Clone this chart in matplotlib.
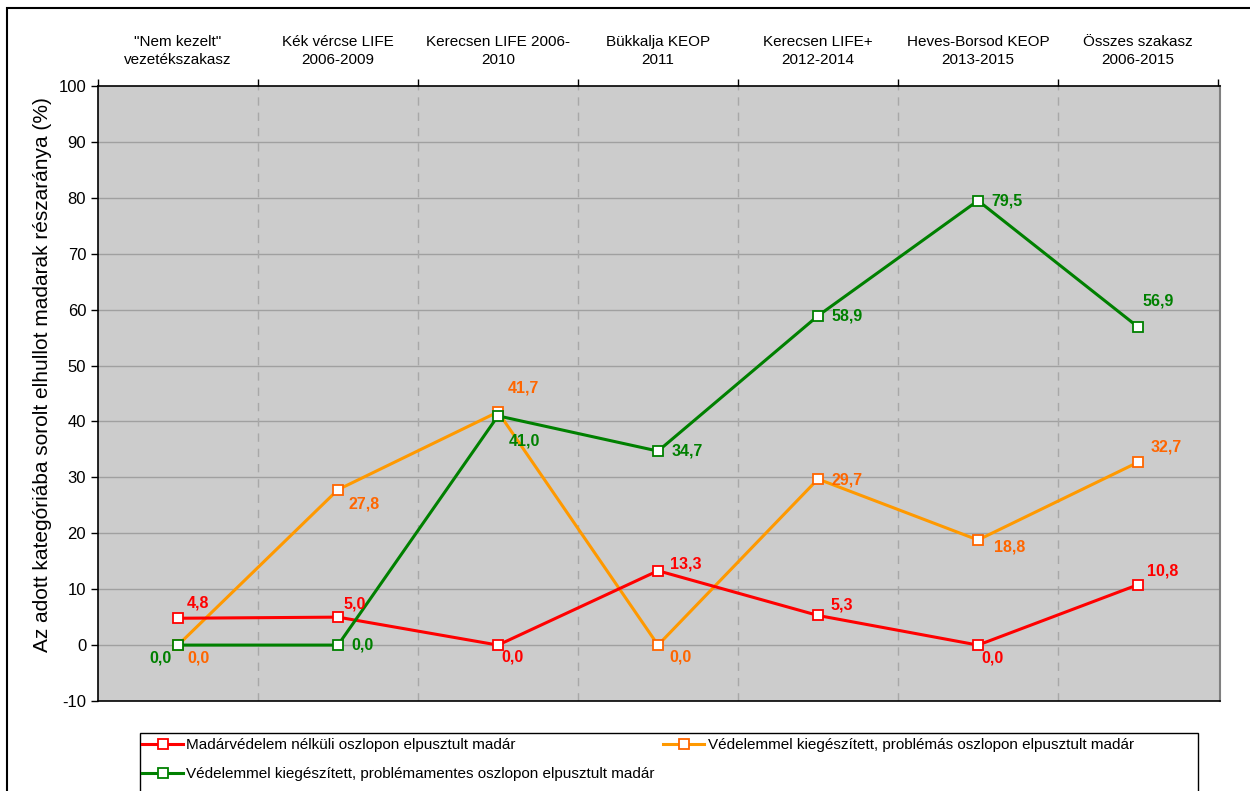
import numpy as np
import matplotlib
matplotlib.use('Agg')
import matplotlib.pyplot as plt
from matplotlib.patches import Rectangle

plt.rcParams['font.family'] = ['Liberation Sans', 'DejaVu Sans']
plt.rcParams['axes.unicode_minus'] = False

# Szakaszok és adatok
szakaszok = ['"Nem kezelt"\nvezetékszakasz', 'Kék vércse LIFE\n2006-2009',
             'Kerecsen LIFE 2006-\n2010', 'Bükkalja KEOP\n2011',
             'Kerecsen LIFE+\n2012-2014', 'Heves-Borsod KEOP\n2013-2015',
             'Összes szakasz\n2006-2015']
vedelem_nelkul = [4.8, 5.0, 0.0, 13.3, 5.3, 0.0, 10.8]
problemas = [0.0, 27.8, 41.7, 0.0, 29.7, 18.8, 32.7]
problemamentes = [0.0, 0.0, 41.0, 34.7, 58.9, 79.5, 56.9]

# címkék eltolása (pixel)
off_piros = [(20, 15), (17, 13), (14, -12), (28, 7), (24, 10), (14, -13), (25, 14)]
off_narancs = [(20, -13), (26, -14), (25, 24), (22, -12), (29, -1), (32, -7), (28, 15)]
off_zold = [(-18, -13), (24, 0), (26, -25), (29, 0), (29, 0), (29, 0), (20, 26)]

fig = plt.figure(figsize=(12.5, 7.91), dpi=100)
ax = fig.add_axes([98 / 1250, 1 - 701 / 791, 1122 / 1250, 615 / 791])
ax.set_facecolor('#CCCCCC')

x = np.arange(len(szakaszok))

l1, = ax.plot(x, vedelem_nelkul, color='#FF0000', lw=2.2, marker='s', ms=6.5,
              mfc='white', mec='#FF0000', mew=1.3, zorder=4,
              label='Madárvédelem nélküli oszlopon elpusztult madár')
l2, = ax.plot(x, problemas, color='#FF9900', lw=2.2, marker='s', ms=6.5,
              mfc='white', mec='#FF6600', mew=1.3, zorder=3,
              label='Védelemmel kiegészített, problémás oszlopon elpusztult madár')
l3, = ax.plot(x, problemamentes, color='#008000', lw=2.2, marker='s', ms=6.5,
              mfc='white', mec='#008000', mew=1.3, zorder=5,
              label='Védelemmel kiegészített, problémamentes oszlopon elpusztult madár')

for vals, offs, col in [(vedelem_nelkul, off_piros, '#FF0000'),
                        (problemas, off_narancs, '#FF6600'),
                        (problemamentes, off_zold, '#008000')]:
    for i, v in enumerate(vals):
        ax.annotate(f'{v:.1f}'.replace('.', ','), (x[i], v), xytext=offs[i],
                    textcoords='offset pixels', ha='center', va='center',
                    fontsize=11.5, fontweight='bold', color=col, zorder=6)

ax.set_xlim(-0.5, 6.5125)
ax.set_ylim(-10, 100)
ax.set_yticks(np.arange(-10, 101, 10))
ax.tick_params(axis='y', labelsize=12, direction='out', length=5, width=1)
ax.set_ylabel('Az adott kategóriába sorolt elhullot madarak részaránya (%)', fontsize=15)
ax.yaxis.set_label_coords(-0.041, 0.53)

# rácsvonalak
for yv in range(0, 100, 10):
    ax.axhline(yv, color='#A0A0A0', lw=1, zorder=1)
for xb in np.arange(0.5, 6, 1):
    ax.axvline(xb, color='#A8A8A8', lw=1, ls=(0, (6, 5)), zorder=1)

# kategóriák felül
ax.xaxis.tick_top()
ax.set_xticks(x)
ax.set_xticklabels(szakaszok, fontsize=11, linespacing=1.3)
ax.set_xticks(np.arange(-0.5, 6.6, 1), minor=True)
ax.tick_params(axis='x', which='major', length=0, pad=14)
ax.tick_params(axis='x', which='minor', direction='out', length=5, width=1)

for s in ['top', 'left', 'bottom']:
    ax.spines[s].set_color('black')
    ax.spines[s].set_linewidth(1.2)
ax.spines['right'].set_color('#808080')
ax.spines['right'].set_linewidth(1.5)

# jelmagyarázat, keret külön
fig.patches.append(Rectangle((140 / 1250, -0.05), 1058 / 1250, 1.05 - 733 / 791,
                             transform=fig.transFigure, facecolor='white',
                             edgecolor='black', lw=1))
fig.legend(handles=[l1, l3, l2], loc='upper left', ncol=2,
           bbox_to_anchor=(142 / 1250, 1 - 738 / 791),
           fontsize=11, frameon=False, handlelength=2.7, handletextpad=0.2,
           columnspacing=0.55, borderpad=0, labelspacing=1.0, borderaxespad=0)

# külső keret
fig.patches.append(Rectangle((7 / 1250, -0.1), 1.2, 1.1 - 8 / 791, transform=fig.transFigure,
                             fill=False, edgecolor='black', lw=1.5))

fig.savefig('out.png', dpi=100)
